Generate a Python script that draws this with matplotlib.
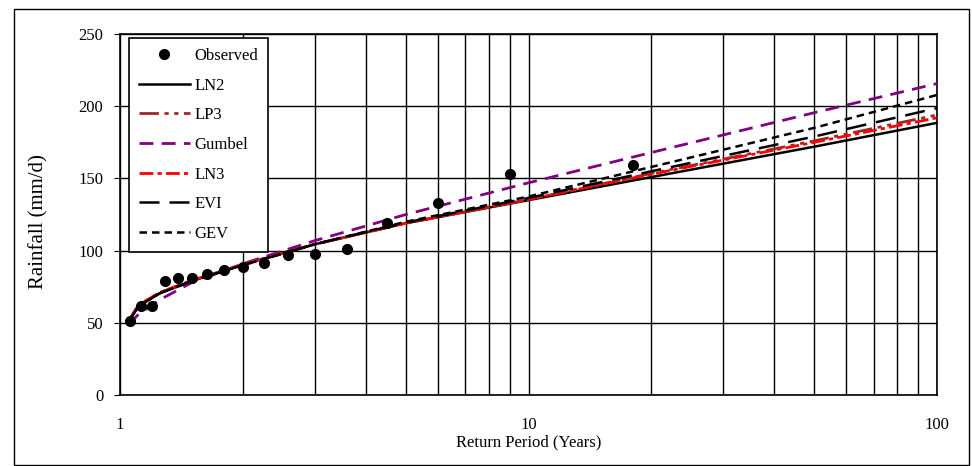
import matplotlib
matplotlib.use("Agg")
import matplotlib.pyplot as plt
from matplotlib.patches import Rectangle
from matplotlib.ticker import LogLocator, FixedLocator, NullFormatter

plt.rcParams['font.family'] = ['Liberation Serif', 'DejaVu Serif']

# Observed data (return period, rainfall)
obs_T = [18.0, 9.0, 6.0, 4.5, 3.6, 3.0, 2.571, 2.25, 2.0, 1.8, 1.636, 1.5, 1.385, 1.286, 1.2, 1.125, 1.059]
obs_P = [159.5, 153.3, 133.3, 119.5, 101.5, 97.5, 96.7, 91.8, 88.4, 86.3, 83.6, 80.8, 80.8, 78.7, 61.5, 62.0, 51.0]

# Fitted distributions at selected return periods
fit_T = [1.05, 1.11, 1.25, 1.5, 2, 3, 5, 10, 20, 50, 100]
ln2 = [51.0, 62.0, 70.5, 79.0, 90.5, 104.5, 119.0, 135.0, 151.0, 172.0, 188.5]
lp3 = [51.5, 62.5, 71.0, 79.5, 90.5, 104.5, 119.0, 135.5, 153.5, 176.0, 194.0]
gumbel = [49.0, 56.0, 66.0, 78.0, 91.0, 107.0, 125.0, 147.0, 168.0, 195.5, 215.7]
ln3 = [51.5, 62.5, 71.0, 79.5, 90.5, 104.5, 119.0, 135.5, 153.0, 175.0, 192.0]
evi = [51.0, 61.5, 70.5, 79.0, 90.0, 104.5, 119.5, 136.5, 155.0, 179.0, 198.7]
gev = [51.0, 61.5, 70.5, 79.0, 90.0, 104.5, 120.0, 137.5, 158.0, 185.0, 207.8]

fig = plt.figure(figsize=(9.72, 4.66), dpi=100)
ax = fig.add_axes([0.1235, 0.152, 0.8405, 0.775])

ax.plot(fit_T, ln2, color='black', lw=1.8, ls='-', label='LN2', zorder=3)
ax.plot(fit_T, lp3, color='#9B2A2A', lw=2.0, ls=(0, (7, 2, 1.5, 2, 1.5, 2)), label='LP3', zorder=3)
ax.plot(fit_T, gumbel, color='#800080', lw=2.0, ls=(0, (5, 3)), label='Gumbel', zorder=3)
ax.plot(fit_T, ln3, color='#FF0000', lw=2.0, ls=(0, (5, 1.5, 1.5, 1.5)), label='LN3', zorder=3)
ax.plot(fit_T, evi, color='black', lw=1.8, ls=(0, (8, 4)), label='EVI', zorder=3)
ax.plot(fit_T, gev, color='black', lw=1.8, ls=(0, (3, 2)), label='GEV', zorder=3)
ax.plot(obs_T, obs_P, 'o', color='black', ms=7, label='Observed', zorder=4)

ax.set_xscale('log')
ax.set_xlim(1, 100)
ax.set_ylim(0, 250)
ax.set_yticks([0, 50, 100, 150, 200, 250])
ax.xaxis.set_major_locator(FixedLocator([1, 10, 100]))
ax.set_xticklabels(['1', '10', '100'])
ax.xaxis.set_minor_locator(LogLocator(base=10, subs=range(2, 10)))
ax.xaxis.set_minor_formatter(NullFormatter())
ax.grid(True, which='major', axis='both', color='black', lw=1.0)
ax.grid(True, which='minor', axis='x', color='black', lw=1.0)
ax.set_axisbelow(True)
for s in ax.spines.values():
    s.set_color('black')
    s.set_linewidth(1.2)
ax.tick_params(axis='y', direction='out', length=4, labelsize=12, pad=8)
ax.tick_params(axis='x', which='both', length=0, labelsize=12, pad=16)

ax.set_xlabel('Return Period (Years)', fontsize=12, labelpad=1)
ax.set_ylabel('Rainfall (mm/d)', fontsize=15)
ax.yaxis.set_label_coords(-0.088, 0.48)

h, l = ax.get_legend_handles_labels()
order = [6, 0, 1, 2, 3, 4, 5]
leg = ax.legend([h[i] for i in order], [l[i] for i in order], loc='upper left',
                bbox_to_anchor=(0.011, 0.989), borderaxespad=0, fontsize=12, frameon=True,
                fancybox=False, edgecolor='black', framealpha=1, labelspacing=0.82,
                handlelength=3.05, handletextpad=0.25, borderpad=0.6)
leg.get_frame().set_linewidth(1.2)

fig.patches.append(Rectangle((0.014, 0.003), 0.983, 0.977, transform=fig.transFigure,
                             fill=False, edgecolor='black', lw=1.0))

fig.savefig('out.png', dpi=100)
